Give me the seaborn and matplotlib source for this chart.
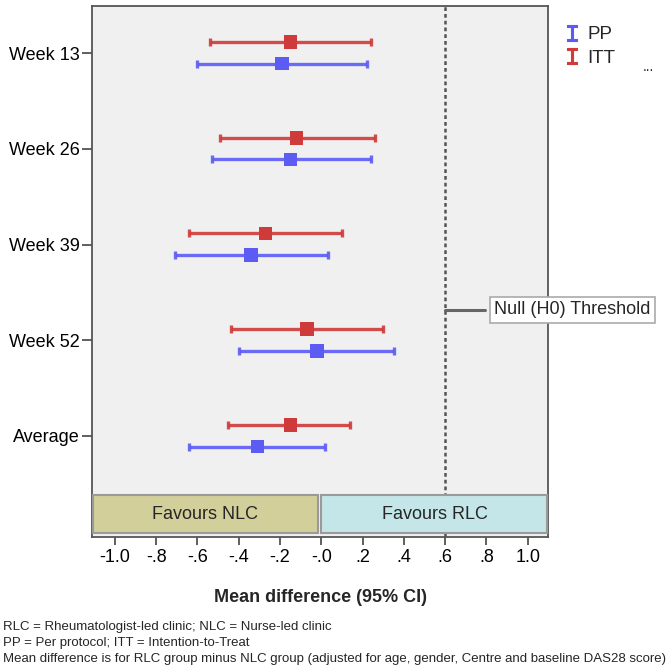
import numpy as np
import pandas as pd
import seaborn as sns
import matplotlib.pyplot as plt
from matplotlib.patches import Rectangle
from matplotlib.lines import Line2D

# data
timepoints = ["Week 13", "Week 26", "Week 39", "Week 52", "Average"]
itt_mean = [-0.15, -0.12, -0.27, -0.07, -0.15]
itt_lo = [-0.54, -0.49, -0.64, -0.44, -0.45]
itt_hi = [0.24, 0.26, 0.10, 0.30, 0.14]
pp_mean = [-0.19, -0.15, -0.34, -0.02, -0.31]
pp_lo = [-0.60, -0.53, -0.71, -0.40, -0.64]
pp_hi = [0.22, 0.24, 0.03, 0.35, 0.02]
x_ticks = [-1.0, -0.8, -0.6, -0.4, -0.2, 0.0, 0.2, 0.4, 0.6, 0.8, 1.0]
x_tick_labels = ["-1.0", "-.8", "-.6", "-.4", "-.2", "-.0", ".2", ".4", ".6", ".8", "1.0"]
null_threshold = 0.6
footnotes = [
    "RLC = Rheumatologist-led clinic; NLC = Nurse-led clinic",
    "PP = Per protocol; ITT = Intention-to-Treat",
    "Mean difference is for RLC group minus NLC group (adjusted for age, gender, Centre and baseline DAS28 score)",
]

RED = "#cf3a3a"
BLUE = "#5c5cf5"

sns.set_style("white")
plt.rcParams["font.family"] = ["Liberation Sans", "DejaVu Sans"]

df = pd.DataFrame({
    "timepoint": timepoints * 2,
    "analysis": ["ITT"] * len(timepoints) + ["PP"] * len(timepoints),
    "mean": itt_mean + pp_mean,
    "lo": itt_lo + pp_lo,
    "hi": itt_hi + pp_hi,
})
row = {t: i for i, t in enumerate(timepoints)}
df["ypos"] = df["timepoint"].map(row) + df["analysis"].map({"ITT": -0.115, "PP": 0.11})

fig = plt.figure(figsize=(6.68, 6.67), dpi=100)
ax = fig.add_axes([92 / 668, 1 - 537 / 667, (548 - 92) / 668, (537 - 6) / 667])
ax.set_facecolor("#f0f0f0")

for name, col in [("ITT", RED), ("PP", BLUE)]:
    sub = df[df["analysis"] == name]
    ax.errorbar(sub["mean"], sub["ypos"],
                xerr=[sub["mean"] - sub["lo"], sub["hi"] - sub["mean"]],
                fmt="none", ecolor=col, elinewidth=2.4, capsize=3, capthick=2.4,
                alpha=0.9, zorder=2)

sns.scatterplot(data=df, x="mean", y="ypos", hue="analysis",
                palette={"ITT": RED, "PP": BLUE}, marker="s", s=95,
                linewidth=0, legend=False, zorder=3, ax=ax)

ax.axvline(null_threshold, color="#555555", ls=(0, (1.5, 1.2)), lw=1.8, zorder=1)

# favours boxes
xl, xr = -1.111, 1.098
ax.add_patch(Rectangle((xl + 0.003, 4.616), -0.016 - xl - 0.003, 0.397,
                       facecolor="#d3cf9b", edgecolor="#9a9a9a", lw=1.5, zorder=4))
ax.add_patch(Rectangle((-0.002, 4.616), xr - 0.003 + 0.002, 0.397,
                       facecolor="#c4e6e8", edgecolor="#9a9a9a", lw=1.5, zorder=4))
ax.text((xl - 0.016) / 2, 4.815, "Favours NLC", ha="center", va="center", fontsize=13, zorder=5)
ax.text((xr - 0.002) / 2, 4.815, "Favours RLC", ha="center", va="center", fontsize=13, zorder=5)

# null threshold label
ax.plot([null_threshold, 0.795], [2.68, 2.68], color="#666666", lw=2.2, zorder=5,
        clip_on=False)
ax.text(0.837, 2.68, "Null (H0) Threshold", ha="left", va="center", fontsize=13,
        zorder=6, clip_on=False,
        bbox=dict(boxstyle="square,pad=0.25", facecolor="white", edgecolor="#aaaaaa", lw=1.2))

ax.set_xlim(xl, xr)
ax.set_ylim(5.055, -0.491)
ax.set_xticks(x_ticks)
ax.set_xticklabels(x_tick_labels, fontsize=13)
ax.set_yticks(range(len(timepoints)))
ax.set_yticklabels(timepoints, fontsize=13)
ax.set_xlabel("")
ax.set_ylabel("")
ax.tick_params(axis="x", direction="out", length=6, width=1.2, pad=3, colors="#444444",
               labelcolor="black", bottom=True)
ax.tick_params(axis="y", direction="out", length=7, width=1.2, pad=2, colors="#444444",
               labelcolor="black", left=True)
for sp in ax.spines.values():
    sp.set_color("#555555")
    sp.set_linewidth(1.3)

fig.text(321 / 668, 1 - 598 / 667, "Mean difference (95% CI)", ha="center", va="center",
         fontsize=13, fontweight="bold")

# legend
handles = [Line2D([], [], color=BLUE, marker="$\\mathtt{I}$", markersize=12, linestyle="none",
                  markeredgewidth=0.8),
           Line2D([], [], color=RED, marker="$\\mathtt{I}$", markersize=12, linestyle="none",
                  markeredgewidth=0.8)]
fig.legend(handles, ["PP", "ITT"], loc="upper left", bbox_to_anchor=(564 / 668, 1 - 26 / 667),
           frameon=False, fontsize=13.5, handlelength=0.8, handletextpad=0.45, labelspacing=0.35,
           borderaxespad=0, borderpad=0)
fig.text(648 / 668, 1 - 67 / 667, "...", ha="center", va="center", fontsize=10)

for i, line in enumerate(footnotes):
    fig.text(3 / 668, 1 - (627 + 16 * i) / 667, line, ha="left", va="center", fontsize=9.5)

fig.savefig("out.png", dpi=100)
